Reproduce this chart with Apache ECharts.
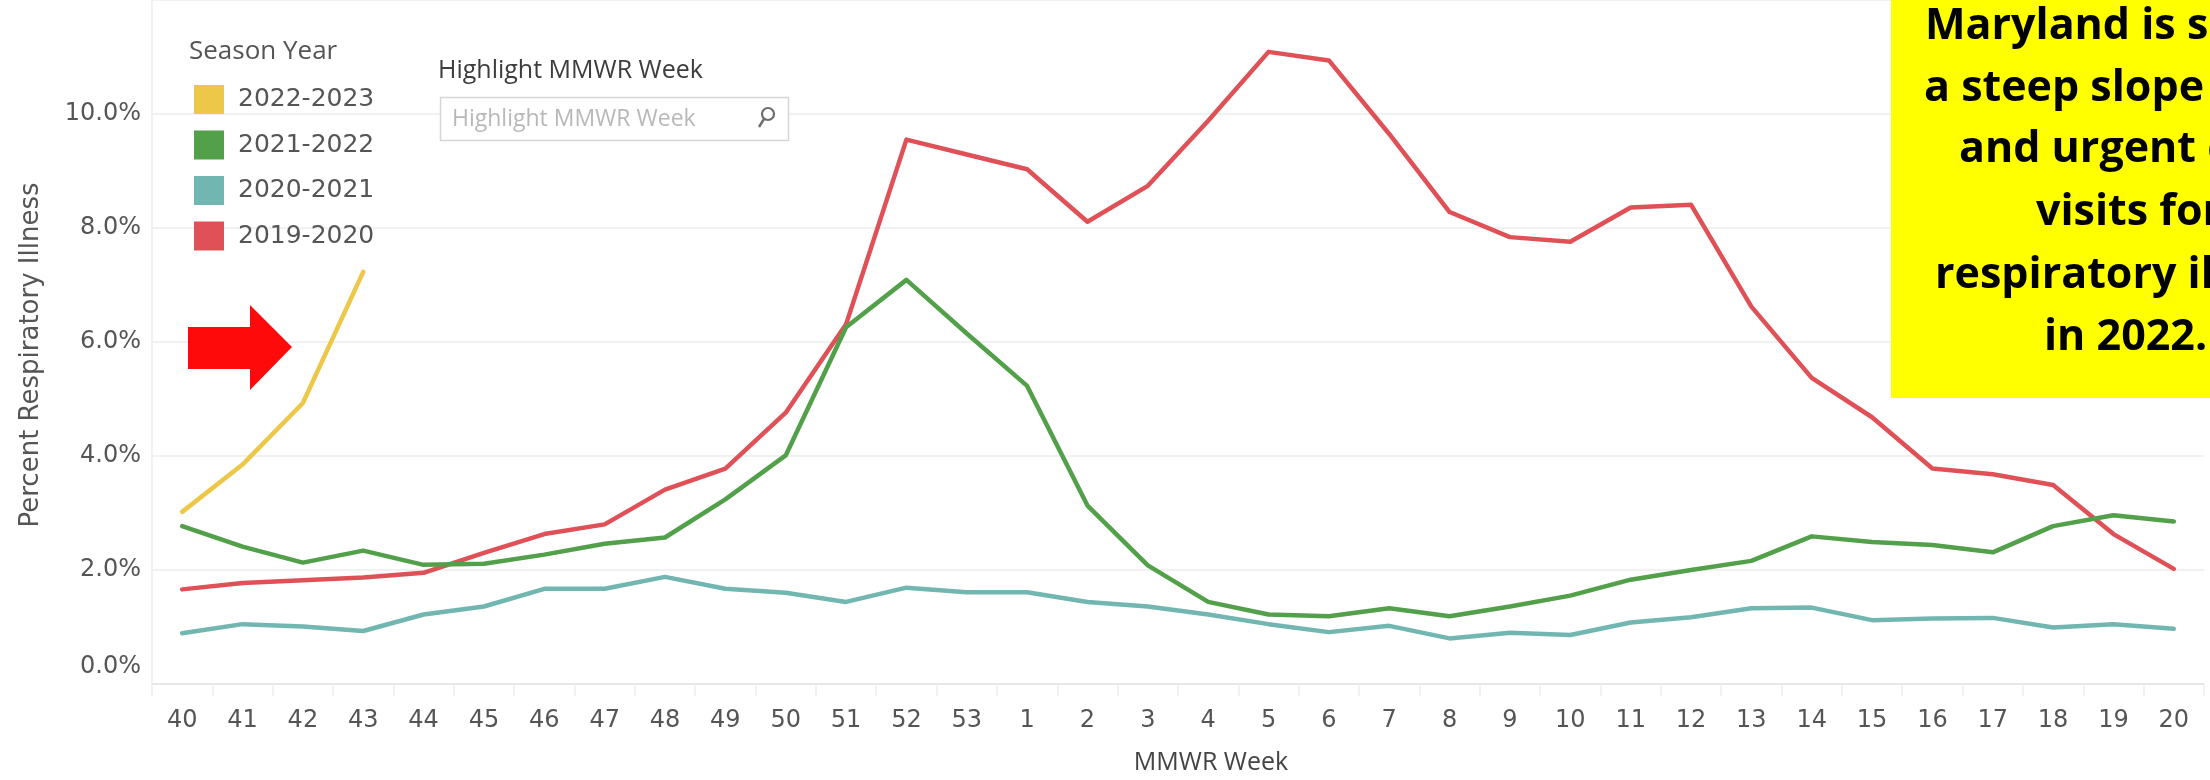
<!DOCTYPE html>
<html>
<head>
<meta charset="utf-8">
<script src="https://cdn.jsdelivr.net/npm/echarts@6/dist/echarts.min.js"></script>
<style>
  html, body { margin: 0; padding: 0; background: #ffffff; }
  #chart { width: 2210px; height: 780px; }
</style>
</head>
<body>
<div id="chart"></div>
<script>
// MMWR week categories (season runs week 40 to week 20)
const weeks = ['40','41','42','43','44','45','46','47','48','49','50','51','52','53',
               '1','2','3','4','5','6','7','8','9','10','11','12','13','14','15','16','17','18','19','20'];

// Percent respiratory illness by season
const season2022 = [3.02, 3.85, 4.93, 7.23];
const season2021 = [2.77, 2.41, 2.13, 2.34, 2.09, 2.11, 2.27, 2.46, 2.57, 3.24, 4.01, 6.26, 7.09, 6.15,
                    5.23, 3.13, 2.08, 1.44, 1.22, 1.19, 1.33, 1.19, 1.36, 1.55, 1.83, 2.00, 2.16, 2.59, 2.49, 2.44, 2.31, 2.77, 2.96, 2.85];
const season2020 = [0.89, 1.05, 1.01, 0.93, 1.22, 1.36, 1.67, 1.67, 1.88, 1.67, 1.60, 1.44, 1.69, 1.61,
                    1.61, 1.44, 1.36, 1.22, 1.05, 0.91, 1.02, 0.80, 0.90, 0.86, 1.08, 1.17, 1.33, 1.34, 1.12, 1.15, 1.16, 0.99, 1.05, 0.97];
const season2019 = [1.66, 1.77, 1.82, 1.87, 1.95, 2.30, 2.63, 2.80, 3.41, 3.78, 4.76, 6.31, 9.55, 9.29,
                    9.03, 8.11, 8.74, 9.88, 11.09, 10.94, 9.65, 8.28, 7.84, 7.76, 8.36, 8.41, 6.62, 5.37, 4.68, 3.78, 3.68, 3.49, 2.63, 2.02];

const seasonNames = ['2022-2023', '2021-2022', '2020-2021', '2019-2020'];
const seasonColors = ['#ecc748', '#53a04a', '#72b6b1', '#df5157'];
const seasonData = [season2022, season2021, season2020, season2019];

const calloutLines = ['Maryland is seeing', 'a steep slope in ER', 'and urgent care', 'visits for', 'respiratory illness', 'in 2022.'];

const chart = echarts.init(document.getElementById('chart'));

const series = [];
for (let i = seasonNames.length - 1; i >= 0; i--) {
  series.push({
    name: seasonNames[i],
    type: 'line',
    data: seasonData[i],
    showSymbol: false,
    symbol: 'none',
    smooth: false,
    lineStyle: { color: seasonColors[i], width: 4.5, cap: 'round', join: 'round' },
    itemStyle: { color: seasonColors[i] },
    emphasis: { disabled: true },
    z: 2 + (seasonNames.length - i)
  });
}

const sansWords = '"Open Sans", "DejaVu Sans", sans-serif';
const sansNums = '"DejaVu Sans", "Open Sans", sans-serif';

const calloutX = [1925, 1924, 1959, 2036, 1935, 2044];
const calloutY = [27, 89, 150, 213, 276, 338];

const graphics = [
  // callout box
  { type: 'rect', left: 1891, top: 0, shape: { width: 420, height: 398 }, style: { fill: '#ffff00' }, z: 10 },
  // red arrow
  { type: 'polygon', shape: { points: [[188,327],[250,327],[250,305],[292,347],[250,390],[250,369],[188,369]] },
    style: { fill: '#ff0a0a' }, z: 10 },
  // highlight control
  { type: 'text', left: 438, top: 58, style: { text: 'Highlight MMWR Week', font: '25px ' + sansWords, fill: '#3d3d3d' }, z: 10 },
  { type: 'rect', shape: { x: 440.5, y: 97.5, width: 348, height: 43 }, style: { fill: '#ffffff', stroke: '#d6d6d6', lineWidth: 1.5 }, z: 10 },
  { type: 'text', style: { x: 452, y: 119, text: 'Highlight MMWR Week', font: '23px ' + sansWords, fill: '#b8b8b8', verticalAlign: 'middle' }, z: 11 },
  { type: 'circle', shape: { cx: 768, cy: 114, r: 6 }, style: { fill: 'none', stroke: '#6d6d6d', lineWidth: 2.2 }, z: 11 },
  { type: 'line', shape: { x1: 764, y1: 119, x2: 759, y2: 127 }, style: { stroke: '#6d6d6d', lineWidth: 2.5 }, z: 11 },
  // legend title
  { type: 'text', left: 189, top: 39, style: { text: 'Season Year', font: '26px ' + sansWords, fill: '#555555' }, z: 10 }
];
calloutLines.forEach((t, i) => {
  graphics.push({ type: 'text', style: { x: calloutX[i], y: calloutY[i], text: t, font: 'bold 43px ' + sansWords,
    fill: '#000000', verticalAlign: 'middle', textAlign: 'left' }, z: 12 });
});

chart.setOption({
  animation: false,
  backgroundColor: '#ffffff',
  grid: { left: 152, right: 6, top: -12, bottom: 70, containLabel: false },
  legend: {
    data: seasonNames,
    orient: 'vertical',
    left: 194,
    top: 85,
    padding: 0,
    icon: 'rect',
    itemWidth: 30,
    itemHeight: 29,
    itemGap: 16.5,
    selectedMode: false,
    textStyle: { fontFamily: sansNums, fontSize: 25, color: '#555555', padding: [0, 0, 0, 9] }
  },
  xAxis: {
    type: 'category',
    data: weeks,
    boundaryGap: true,
    axisLine: { show: true, lineStyle: { color: '#e4e4e4', width: 1.5 } },
    axisTick: { show: true, length: 12, lineStyle: { color: '#eeeeee', width: 1.5 } },
    axisLabel: { margin: 25, fontFamily: sansNums, fontSize: 24, color: '#555555' },
    splitLine: { show: false },
    name: 'MMWR Week',
    nameLocation: 'middle',
    nameGap: 66,
    nameTextStyle: { fontFamily: sansWords, fontSize: 25, color: '#444444', padding: [0, 0, 0, 66] }
  },
  yAxis: {
    type: 'value',
    min: 0,
    max: 12,
    interval: 2,
    axisLine: { show: true, lineStyle: { color: '#eeeeee', width: 1.5 } },
    axisTick: { show: false },
    splitLine: { show: true, lineStyle: { color: '#ececec', width: 1.5 } },
    axisLabel: {
      margin: 11,
      showMaxLabel: false,
      fontFamily: sansNums,
      fontSize: 24,
      color: '#555555',
      formatter: function (v) { return v === 0 ? '{z|0.0%}' : v.toFixed(1) + '%'; },
      rich: { z: { fontFamily: sansNums, fontSize: 24, color: '#555555', padding: [0, 0, 34, 0] } }
    },
    name: 'Percent Respiratory Illness',
    nameLocation: 'middle',
    nameGap: 108,
    nameTextStyle: { fontFamily: sansNums, fontSize: 26, color: '#555555', padding: [0, 26, 0, 0] }
  },
  graphic: graphics,
  series: series
});
</script>
</body>
</html>
